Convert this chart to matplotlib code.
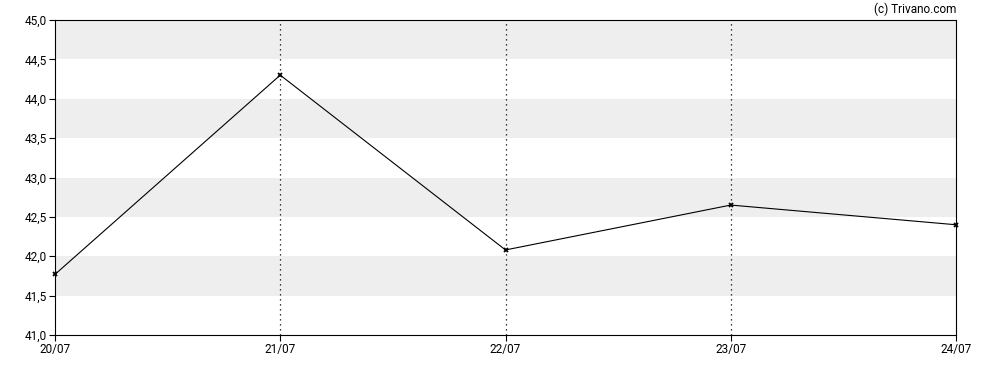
import matplotlib
matplotlib.use("Agg")
import matplotlib.pyplot as plt

dates = ["20/07", "21/07", "22/07", "23/07", "24/07"]
prices = [41.77, 44.30, 42.08, 42.65, 42.40]
y_ticks = [41.0, 41.5, 42.0, 42.5, 43.0, 43.5, 44.0, 44.5, 45.0]

plt.rcParams['font.family'] = ['Roboto', 'DejaVu Sans']

fig = plt.figure(figsize=(9.88, 3.70), dpi=100)
ax = fig.add_axes([55/988, 1-335/370, (956-55)/988, (335-20)/370])

x = list(range(len(dates)))

# alternating grey bands
for lo in [41.5, 42.5, 43.5, 44.5]:
    ax.axhspan(lo, lo + 0.5, color='#eeeeee', lw=0, zorder=0)

for xi in x[1:-1]:
    ax.axvline(xi, color='black', lw=0.9, ls=(0, (1, 3)), zorder=1)

ax.plot(x, prices, color='black', lw=0.8, marker='x', ms=3.5, mew=1.3,
        zorder=3, clip_on=False)

ax.set_xlim(0, len(dates) - 1)
ax.set_ylim(41, 45)
ax.set_xticks(x)
ax.set_xticklabels(dates)
ax.set_yticks(y_ticks)
ax.set_yticklabels([f"{v:.1f}".replace('.', ',') for v in y_ticks])
ax.tick_params(labelsize=8.5, length=4, width=0.8, color='black', pad=2)

for s in ax.spines.values():
    s.set_linewidth(0.8)

fig.text(956/988, 1-9/370, "(c) Trivano.com", ha='right', va='center', fontsize=8.5)

fig.savefig("out.png", dpi=100)
